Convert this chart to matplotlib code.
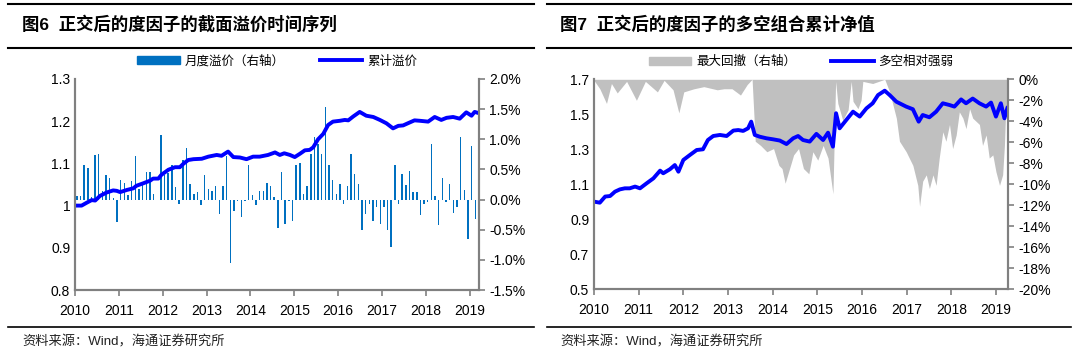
import matplotlib
matplotlib.use('Agg')
import matplotlib.pyplot as plt
from matplotlib.lines import Line2D
from matplotlib.patches import Patch
import pandas as pd

plt.rcParams['font.family'] = ['Liberation Sans', 'Noto Sans CJK SC', 'DejaVu Sans']

# ---- chart 6: monthly premium (%) and cumulative premium ----
premium = [0.06, 0.06, 0.58, 0.53, 0.04, 0.74, 0.76, 0.14, 0.41, 0.36, 0.03, -0.37,
           0.33, 0.28, 0.08, 0.31, 0.72, 0.17, 0.24, 0.46, 0.46, 0.10, -0.01, 1.07,
           0.41, 0.44, 0.58, 0.21, -0.07, 0.66, 0.85, 0.26, 0.10, 0.13, -0.09, 0.41,
           0.18, 0.15, 0.23, -0.24, 0.23, 0.73, -1.06, -0.19, -0.02, -0.29, -0.02, 0.58,
           0.08, -0.09, 0.15, 0.15, 0.28, 0.23, 0.04, -0.47, 0.46, -0.40, -0.02, -0.35,
           0.58, 0.61, 0.10, 0.23, 0.76, 1.04, 0.92, 0.76, 1.54, 0.58, 0.33, 0.10,
           0.26, -0.07, 0.23, 0.76, 0.43, 0.26, -0.50, -0.24, -0.07, -0.35, -0.13, -0.40,
           -0.13, -0.50, -0.78, 0.57, -0.07, 0.42, 0.24, 0.48, 0.13, 0.13, -0.25, -0.07,
           -0.04, 0.92, 0.06, -0.43, 0.36, -0.04, 0.26, -0.22, -0.13, 1.04, 0.16, -0.65,
           0.89, -0.32]
months = pd.period_range('2010-01', periods=len(premium), freq='M')

cum_t = [2010.00, 2010.15, 2010.27, 2010.38, 2010.46, 2010.57, 2010.72, 2010.87, 2010.95,
         2011.03, 2011.18, 2011.33, 2011.40, 2011.56, 2011.71, 2011.78, 2011.90, 2011.97,
         2012.13, 2012.28, 2012.39, 2012.47, 2012.58, 2012.70, 2012.89, 2013.04, 2013.23,
         2013.34, 2013.49, 2013.61, 2013.76, 2013.91, 2014.06, 2014.21, 2014.40, 2014.56,
         2014.67, 2014.77, 2014.90, 2015.01, 2015.13, 2015.24, 2015.35, 2015.43, 2015.54,
         2015.66, 2015.77, 2015.88, 2016.04, 2016.15, 2016.23, 2016.34, 2016.49, 2016.64,
         2016.80, 2016.95, 2017.10, 2017.25, 2017.37, 2017.48, 2017.63, 2017.74, 2017.86,
         2018.05, 2018.20, 2018.35, 2018.47, 2018.62, 2018.77, 2018.92, 2019.04, 2019.11,
         2019.21]
cum_v = [1.000, 1.000, 1.007, 1.013, 1.012, 1.023, 1.031, 1.036, 1.035,
         1.032, 1.037, 1.041, 1.047, 1.053, 1.059, 1.064, 1.064, 1.073,
         1.085, 1.091, 1.091, 1.099, 1.108, 1.110, 1.111, 1.116, 1.120,
         1.118, 1.128, 1.115, 1.114, 1.110, 1.116, 1.116, 1.120, 1.126,
         1.120, 1.124, 1.120, 1.115, 1.123, 1.131, 1.132, 1.138, 1.157,
         1.170, 1.191, 1.199, 1.201, 1.203, 1.202, 1.211, 1.222, 1.213,
         1.210, 1.203, 1.195, 1.183, 1.189, 1.190, 1.197, 1.202, 1.201,
         1.199, 1.210, 1.203, 1.208, 1.210, 1.206, 1.221, 1.213, 1.222,
         1.219]

# ---- chart 7: long-short NAV and max drawdown (%) ----
nav_t = [2010.00, 2010.13, 2010.25, 2010.36, 2010.47, 2010.58, 2010.69, 2010.80, 2010.92,
         2011.03, 2011.18, 2011.33, 2011.48, 2011.55, 2011.70, 2011.81, 2011.89, 2012.00,
         2012.15, 2012.30, 2012.44, 2012.55, 2012.67, 2012.82, 2012.97, 2013.12, 2013.23,
         2013.34, 2013.45, 2013.52, 2013.60, 2013.71, 2013.86, 2014.01, 2014.16, 2014.31,
         2014.46, 2014.57, 2014.68, 2014.83, 2014.98, 2015.13, 2015.24, 2015.35, 2015.42,
         2015.50, 2015.65, 2015.80, 2015.95, 2016.10, 2016.24, 2016.36, 2016.51, 2016.62,
         2016.77, 2016.99, 2017.14, 2017.27, 2017.36, 2017.51, 2017.66, 2017.81, 2017.96,
         2018.07, 2018.22, 2018.33, 2018.48, 2018.63, 2018.78, 2018.89, 2019.00, 2019.11,
         2019.19, 2019.26]
nav_v = [1.001, 0.995, 1.030, 1.033, 1.058, 1.071, 1.077, 1.077, 1.087,
         1.077, 1.106, 1.134, 1.178, 1.163, 1.186, 1.210, 1.172, 1.239,
         1.268, 1.296, 1.300, 1.353, 1.376, 1.382, 1.376, 1.407, 1.410,
         1.405, 1.420, 1.458, 1.382, 1.372, 1.363, 1.357, 1.350, 1.330,
         1.363, 1.376, 1.353, 1.344, 1.388, 1.353, 1.395, 1.315, 1.506,
         1.420, 1.468, 1.515, 1.487, 1.534, 1.563, 1.610, 1.635, 1.610,
         1.572, 1.544, 1.529, 1.458, 1.496, 1.483, 1.515, 1.563, 1.553,
         1.544, 1.585, 1.563, 1.590, 1.563, 1.544, 1.567, 1.487, 1.563,
         1.477, 1.540]

dd_t = [2010.00, 2010.13, 2010.28, 2010.39, 2010.52, 2010.73, 2010.95, 2011.15, 2011.42,
        2011.57, 2011.77, 2011.90, 2012.01, 2012.24, 2012.46, 2012.76, 2012.91, 2013.09,
        2013.28, 2013.43, 2013.54, 2013.61, 2013.73, 2013.87, 2014.02, 2014.14, 2014.21,
        2014.28, 2014.40, 2014.47, 2014.58, 2014.69, 2014.81, 2014.90, 2015.01, 2015.13,
        2015.24, 2015.35, 2015.41, 2015.46, 2015.57, 2015.69, 2015.76, 2015.80, 2015.91,
        2015.98, 2016.02, 2016.24, 2016.51, 2016.62, 2016.77, 2016.84, 2016.99, 2017.14,
        2017.25, 2017.29, 2017.36, 2017.44, 2017.51, 2017.59, 2017.66, 2017.73, 2017.81,
        2017.88, 2017.96, 2018.03, 2018.11, 2018.18, 2018.26, 2018.33, 2018.41, 2018.48,
        2018.63, 2018.70, 2018.78, 2018.85, 2018.93, 2019.00, 2019.08, 2019.15, 2019.19,
        2019.22, 2019.26]
dd_v = [-0.1, -0.9, -2.3, -0.4, -1.3, -0.2, -2.0, -0.2, -1.2,
        -0.1, -1.0, -3.2, -1.2, -0.9, -0.7, -1.0, -0.9, -0.9,
        -1.5, -0.5, 0.0, -5.9, -6.3, -6.9, -6.6, -8.2, -8.5,
        -9.9, -8.2, -7.2, -6.6, -8.5, -9.0, -6.9, -7.7, -6.3,
        -7.5, -10.9, -0.2, -2.3, -3.9, -2.9, -0.2, -2.1, -2.8,
        -2.0, -0.2, -0.4, 0.0, -1.2, -3.7, -5.9, -6.9, -8.2,
        -10.1, -12.1, -9.7, -9.1, -10.4, -9.1, -10.1, -7.5, -5.0,
        -5.9, -4.3, -6.6, -5.3, -3.1, -3.7, -4.7, -2.8, -3.7,
        -4.3, -6.3, -5.3, -7.5, -7.2, -8.8, -10.1, -9.1, -6.3,
        -2.8, -1.8]

years = list(range(2010, 2020))

cjk = ['Noto Sans CJK SC', 'DejaVu Sans']
latin_cjk = ['Liberation Sans', 'Noto Sans CJK SC', 'DejaVu Sans']
gray = '#808080'
blue = '#0000FF'

fig = plt.figure(figsize=(10.77, 3.55), dpi=100)
W, H = 1077, 355


def style_axes(ax, ax2, xmax):
    for a in (ax, ax2):
        for s in a.spines.values():
            s.set_color(gray)
            s.set_linewidth(1.5)
        a.spines['top'].set_visible(False)
        a.tick_params(colors=gray, labelcolor='black', labelsize=10, length=4, width=1.2)
    ax.set_xlim(2010, xmax)
    ax.set_xticks(years)
    ax.set_xticklabels([str(y) for y in years])
    ax.tick_params(axis='x', pad=6)


# ---- left panel ----
axL = fig.add_axes([75 / W, 1 - 290 / H, (479 - 75) / W, (290 - 79) / H])
axL2 = axL.twinx()
bar_x = [m.year + (m.month - 0.5) / 12 for m in months]
axL2.bar(bar_x, premium, width=0.033, color='#0070C0', linewidth=0)
axL.plot(cum_t, cum_v, color=blue, lw=2.8, solid_capstyle='round')
axL.set_zorder(axL2.get_zorder() + 1)
axL.patch.set_visible(False)
axL.set_ylim(0.8, 1.3)
axL.set_yticks([0.8, 0.9, 1.0, 1.1, 1.2, 1.3])
axL.set_yticklabels(['0.8', '0.9', '1', '1.1', '1.2', '1.3'])
axL2.set_ylim(-1.5, 2.0)
axL2.set_yticks([-1.5, -1.0, -0.5, 0, 0.5, 1.0, 1.5, 2.0])
axL2.set_yticklabels(['-1.5%', '-1.0%', '-0.5%', '0.0%', '0.5%', '1.0%', '1.5%', '2.0%'])
style_axes(axL, axL2, 2019.21)
axL.tick_params(axis='y', length=0)

axL.legend([Patch(color='#0070C0'), Line2D([], [], color=blue, lw=2.8)],
           ['月度溢价（右轴）', '累计溢价'], prop={'family': cjk, 'size': 9},
           ncol=2, frameon=False, loc='center', bbox_to_anchor=(0.5, 1.085),
           handlelength=3.4, handleheight=0.6, columnspacing=2.8, handletextpad=0.4)

# ---- right panel ----
axR = fig.add_axes([594 / W, 1 - 289.3 / H, (1008 - 594) / W, (289.3 - 79.3) / H])
axR2 = axR.twinx()
axR2.fill_between(dd_t, dd_v, 0, color='#C0C0C0', linewidth=0)
axR.plot(nav_t, nav_v, color=blue, lw=2.8, solid_capstyle='round')
axR.set_zorder(axR2.get_zorder() + 1)
axR.patch.set_visible(False)
axR.set_ylim(0.5, 1.7)
axR.set_yticks([0.5, 0.7, 0.9, 1.1, 1.3, 1.5, 1.7])
axR2.set_ylim(-20, 0)
axR2.set_yticks(list(range(-20, 1, 2)))
axR2.set_yticklabels(['%d%%' % v for v in range(-20, 1, 2)])
style_axes(axR, axR2, 2019.27)
axR.tick_params(axis='y', length=0)

axR.legend([Patch(color='#C0C0C0'), Line2D([], [], color=blue, lw=2.8)],
           ['最大回撤（右轴）', '多空相对强弱'], prop={'family': cjk, 'size': 9},
           ncol=2, frameon=False, loc='center', bbox_to_anchor=(0.5, 1.085),
           handlelength=3.4, handleheight=0.6, columnspacing=2.8, handletextpad=0.4)

# ---- titles, rules and source notes ----
for x0, x1, tx, title in [(8, 534, 22, '图6  正交后的度因子的截面溢价时间序列'),
                          (547, 1071, 560, '图7  正交后的度因子的多空组合累计净值')]:
    for yy, lw in [(4, 1.5), (48, 1.5), (327, 1.2)]:
        fig.add_artist(Line2D([x0 / W, x1 / W], [1 - yy / H, 1 - yy / H],
                              color='black', lw=lw))
    fig.text(tx / W, 1 - 24 / H, title, family=latin_cjk, fontsize=12.5,
             fontweight='bold', va='center', ha='left')
    fig.text(tx / W, 1 - 342 / H, '资料来源：Wind，海通证券研究所', family=latin_cjk,
             fontsize=9.5, va='center', ha='left', color='#222222')

fig.savefig('out.png', dpi=100)
